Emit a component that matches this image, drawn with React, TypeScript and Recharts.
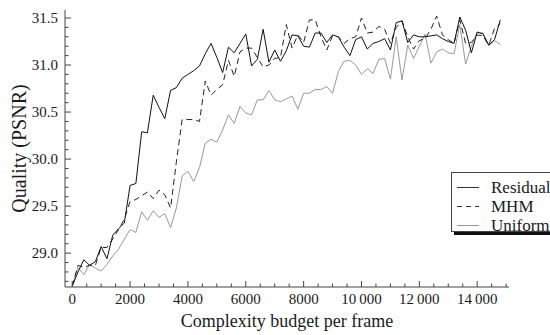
import { Line, LineChart, XAxis, YAxis } from "recharts";

// complexity budget per frame, one sample every 200
const BUDGET = Array.from({ length: 75 }, (_, i) => i * 200);

const RESIDUAL = [
  28.65, 28.8, 28.93, 28.87, 28.91, 29.07, 28.94, 29.19, 29.26, 29.32,
  29.72, 29.74, 30.29, 30.28, 30.68, 30.55, 30.43, 30.73, 30.76, 30.86,
  30.9, 30.94, 30.99, 31.12, 31.23, 31.08, 30.92, 31.19, 31.13, 31.23,
  31.33, 30.99, 31.06, 31.38, 31.03, 31.16, 31.04, 31.15, 31.32, 31.31,
  31.2, 31.19, 31.34, 31.34, 31.24, 31.32, 31.3, 31.19, 31.1, 31.27,
  31.3, 31.17, 31.23, 31.25, 31.28, 31.16, 31.45, 31.47, 31.24, 31.32,
  31.3, 31.3, 31.31, 31.32, 31.28, 31.25, 31.23, 31.51, 31.37, 31.13,
  31.35, 31.33, 31.21, 31.27, 31.48,
];

const MHM = [
  28.65, 28.87, 28.85, 28.87, 28.87, 29.06, 29.06, 29.15, 29.25, 29.36,
  29.55, 29.57, 29.61, 29.65, 29.58, 29.67, 29.62, 29.48, 29.97, 30.42,
  30.42, 30.42, 30.4, 30.83, 30.68, 30.74, 30.79, 31.05, 30.88, 31.14,
  31.18, 31.18, 31.08, 30.98, 31.0, 31.07, 31.08, 31.43, 31.18, 31.32,
  31.24, 31.48, 31.48, 31.3, 31.16, 31.31, 31.3, 31.23, 31.28, 31.3,
  31.5, 31.34, 31.35, 31.41, 31.38, 31.23, 31.4, 31.47, 31.3, 31.17,
  31.26, 31.28, 31.38, 31.52, 31.32, 31.27, 31.23, 31.48, 31.23, 31.24,
  31.32, 31.31, 31.21, 31.39, 31.44,
];

const UNIFORM = [
  28.65, 28.85, 28.77, 28.88, 28.84, 28.81, 28.88, 28.97, 29.04, 29.15,
  29.25, 29.22, 29.44, 29.35, 29.45, 29.38, 29.42, 29.27, 29.48, 29.82,
  29.87, 29.76, 29.91, 30.17, 30.21, 30.18, 30.31, 30.47, 30.38, 30.56,
  30.49, 30.47, 30.63, 30.63, 30.73, 30.63, 30.61, 30.64, 30.67, 30.53,
  30.7, 30.7, 30.74, 30.74, 30.77, 30.7, 30.93, 31.04, 31.05, 31.0,
  30.9, 30.96, 30.91, 31.06, 31.07, 30.85, 31.3, 30.84, 31.21, 31.07,
  31.2, 31.33, 31.02, 31.14, 31.17, 31.13, 31.12, 31.43, 31.01, 31.2,
  31.35, 31.34, 31.21, 31.26, 31.22,
];

const X_MAJOR = [0, 2000, 4000, 6000, 8000, 10000, 12000, 14000];
const X_TICKS = Array.from({ length: 31 }, (_, i) => i * 500);
const Y_MAJOR = [29.0, 29.5, 30.0, 30.5, 31.0, 31.5];
const Y_TICKS = Array.from({ length: 29 }, (_, i) => Math.round(287 + i) / 10);

const X_DOMAIN = [-250, 15100];
const Y_DOMAIN = [28.64, 31.585];

const data = BUDGET.map((x, i) => ({
  x,
  residual: RESIDUAL[i],
  mhm: MHM[i],
  uniform: UNIFORM[i],
}));

const SERIF = "'Liberation Serif', 'Times New Roman', Times, Tinos, 'DejaVu Serif', 'Noto Serif', serif";
const FRAME = "#444";
const INK = "#1a1a1a";

const fmtX = (v: number) => (v >= 10000 ? `${Math.floor(v / 1000)}\u2009${String(v % 1000).padStart(3, "0")}` : String(v));
const isMajorY = (v: number) => Y_MAJOR.some((m) => Math.abs(m - v) < 1e-6);

function BottomTick({ x, y, payload }: any) {
  const major = X_MAJOR.includes(payload.value);
  return (
    <g>
      <line x1={x} x2={x} y1={y} y2={y - (major ? 6 : 3.5)} stroke={FRAME} />
      {major && (
        <text x={x} y={y + 17} textAnchor="middle" style={{ fontFamily: SERIF }} fontSize={15} fill={INK}>
          {fmtX(payload.value)}
        </text>
      )}
    </g>
  );
}

function TopTick({ x, y, payload }: any) {
  const major = X_MAJOR.includes(payload.value);
  return <line x1={x} x2={x} y1={y} y2={y + (major ? 6 : 3.5)} stroke={FRAME} />;
}

function LeftTick({ x, y, payload }: any) {
  const major = isMajorY(payload.value);
  return (
    <g>
      <line x1={x} x2={x + (major ? 6 : 3.5)} y1={y} y2={y} stroke={FRAME} />
      {major && (
        <text x={x - 7} y={y + 5} textAnchor="end" style={{ fontFamily: SERIF }} fontSize={15} fill={INK}>
          {payload.value.toFixed(1)}
        </text>
      )}
    </g>
  );
}

function RightTick({ x, y, payload }: any) {
  const major = isMajorY(payload.value);
  return <line x1={x} x2={x - (major ? 6 : 3.5)} y1={y} y2={y} stroke={FRAME} />;
}

const LEGEND = [
  { name: "Residual", color: "#333", dash: undefined },
  { name: "MHM", color: "#333", dash: "5 4" },
  { name: "Uniform", color: "#999", dash: undefined },
];

export default function App() {
  return (
    <div style={{ position: "absolute", left: 0, top: 0, width: 550, height: 335, overflow: "hidden", background: "#fff", fontFamily: SERIF }}>
      <LineChart width={550} height={335} data={data} margin={{ top: 10, right: 41, bottom: 0, left: 5 }}>
        <XAxis
          xAxisId="b"
          type="number"
          dataKey="x"
          domain={X_DOMAIN}
          allowDataOverflow
          ticks={X_TICKS}
          interval={0}
          height={48}
          tickSize={0}
          tickMargin={0}
          tickLine={false}
          axisLine={{ stroke: FRAME }}
          tick={<BottomTick />}
          label={{
            content: ({ viewBox }: any) => (
              <text
                x={viewBox.x + viewBox.width / 2}
                y={viewBox.y + viewBox.height - 8}
                textAnchor="middle"
                style={{ fontFamily: SERIF }}
                fontSize={18}
                fill={INK}
              >
                Complexity budget per frame
              </text>
            ),
          }}
        />
        <XAxis
          xAxisId="t"
          orientation="top"
          type="number"
          dataKey="x"
          domain={X_DOMAIN}
          allowDataOverflow
          ticks={X_TICKS}
          interval={0}
          height={0}
          tickSize={0}
          tickMargin={0}
          tickLine={false}
          axisLine={{ stroke: FRAME }}
          tick={<TopTick />}
        />
        <YAxis
          yAxisId="l"
          type="number"
          domain={Y_DOMAIN}
          allowDataOverflow
          ticks={Y_TICKS}
          interval={0}
          width={60}
          tickSize={0}
          tickMargin={0}
          tickLine={false}
          axisLine={{ stroke: FRAME }}
          tick={<LeftTick />}
          label={{
            content: ({ viewBox }: any) => {
              const cy = viewBox.y + viewBox.height / 2;
              return (
                <text
                  x={19}
                  y={cy}
                  transform={`rotate(-90 19 ${cy})`}
                  textAnchor="middle"
                  dominantBaseline="central"
                  style={{ fontFamily: SERIF }}
                  fontSize={20}
                  fill={INK}
                >
                  Quality (PSNR)
                </text>
              );
            },
          }}
        />
        <YAxis
          yAxisId="r"
          orientation="right"
          type="number"
          domain={Y_DOMAIN}
          allowDataOverflow
          ticks={Y_TICKS}
          interval={0}
          width={0}
          tickSize={0}
          tickMargin={0}
          tickLine={false}
          axisLine={{ stroke: FRAME }}
          tick={<RightTick />}
        />
        <Line xAxisId="b" yAxisId="l" dataKey="uniform" stroke="#999" strokeWidth={1} dot={false} activeDot={false} isAnimationActive={false} />
        <Line xAxisId="b" yAxisId="l" dataKey="mhm" stroke="#222" strokeWidth={1} strokeDasharray="6 4" dot={false} activeDot={false} isAnimationActive={false} />
        <Line xAxisId="b" yAxisId="l" dataKey="residual" stroke="#111" strokeWidth={1} dot={false} activeDot={false} isAnimationActive={false} />
      </LineChart>
      <div
        style={{
          position: "absolute",
          left: 451,
          top: 172,
          width: 130,
          height: 60,
          boxSizing: "border-box",
          border: `1px solid ${FRAME}`,
          background: "#fff",
          boxShadow: "3px 3px 0 #111",
          paddingTop: 5,
          fontSize: 17,
          color: INK,
        }}
      >
        {LEGEND.map((item) => (
          <div key={item.name} style={{ display: "flex", alignItems: "center", height: 19, whiteSpace: "nowrap" }}>
            <svg width={39} height={19} style={{ flexShrink: 0 }}>
              <line x1={5} x2={27} y1={9.5} y2={9.5} stroke={item.color} strokeDasharray={item.dash} />
            </svg>
            <span>{item.name}</span>
          </div>
        ))}
      </div>
    </div>
  );
}
